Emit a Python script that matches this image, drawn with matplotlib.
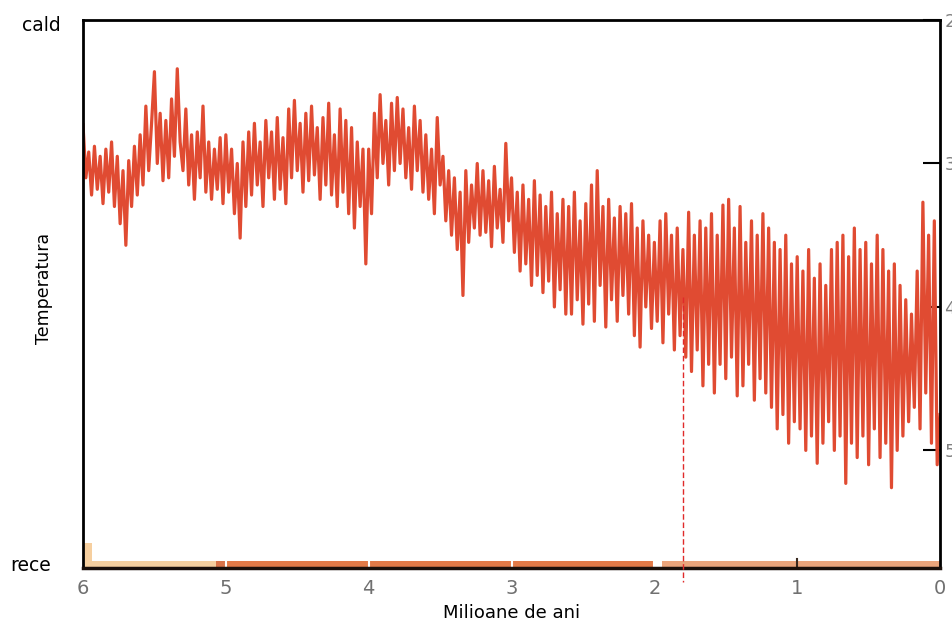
import numpy as np
import matplotlib.pyplot as plt

# delta-18O proxy (per mil), read every 0.02 Myr from 6.00 down to 0.00
d18o = [
    2.73, 3.10, 2.92, 3.22, 2.88, 3.18, 2.95, 3.28, 2.90, 3.20,
    2.85, 3.30, 2.95, 3.42, 3.05, 3.57, 2.98, 3.30, 2.88, 3.22,
    2.80, 3.15, 2.60, 3.05, 2.72, 2.36, 3.00, 2.65, 3.12, 2.70,
    3.10, 2.55, 2.95, 2.34, 2.85, 3.05, 2.62, 3.15, 2.80, 3.25,
    2.78, 3.10, 2.60, 3.20, 2.85, 3.25, 2.90, 3.18, 2.82, 3.28,
    2.80, 3.20, 2.90, 3.35, 3.00, 3.52, 2.85, 3.30, 2.78, 3.22,
    2.72, 3.15, 2.85, 3.30, 2.70, 3.10, 2.78, 3.25, 2.68, 3.18,
    2.82, 3.28, 2.62, 3.10, 2.56, 3.05, 2.72, 3.20, 2.65, 3.12,
    2.60, 3.08, 2.75, 3.25, 2.68, 3.15, 2.58, 3.22, 2.80, 3.30,
    2.62, 3.20, 2.70, 3.35, 2.75, 3.45, 2.85, 3.30, 2.90, 3.70,
    2.90, 3.35, 2.65, 3.10, 2.52, 3.00, 2.70, 3.15, 2.58, 3.05,
    2.54, 3.00, 2.62, 3.10, 2.75, 3.18, 2.60, 3.05, 2.70, 3.20,
    2.80, 3.25, 2.90, 3.35, 2.68, 3.15, 2.95, 3.40, 3.05, 3.50,
    3.10, 3.60, 3.20, 3.92, 3.05, 3.55, 3.15, 3.45, 3.00, 3.50,
    3.05, 3.48, 3.12, 3.58, 3.02, 3.45, 3.18, 3.55, 2.86, 3.40,
    3.10, 3.62, 3.20, 3.75, 3.15, 3.70, 3.25, 3.85, 3.12, 3.78,
    3.22, 3.90, 3.30, 3.82, 3.20, 4.00, 3.35, 3.88, 3.25, 4.05,
    3.30, 4.05, 3.20, 3.95, 3.40, 4.12, 3.28, 3.98, 3.15, 4.10,
    3.05, 3.85, 3.30, 4.14, 3.25, 3.95, 3.38, 4.10, 3.30, 3.92,
    3.35, 4.05, 3.28, 4.20, 3.45, 4.28, 3.40, 4.00, 3.50, 4.15,
    3.55, 4.10, 3.40, 4.25, 3.35, 4.05, 3.50, 4.30, 3.45, 4.20,
    3.60, 4.35, 3.34, 4.45, 3.50, 4.30, 3.40, 4.55, 3.45, 4.40,
    3.35, 4.60, 3.50, 4.40, 3.29, 4.50, 3.25, 4.35, 3.45, 4.62,
    3.30, 4.55, 3.55, 4.40, 3.40, 4.65, 3.50, 4.50, 3.35, 4.60,
    3.45, 4.70, 3.55, 4.85, 3.60, 4.75, 3.50, 4.95, 3.70, 4.80,
    3.65, 4.85, 3.75, 5.00, 3.60, 4.90, 3.80, 5.09, 3.70, 4.95,
    3.85, 4.80, 3.60, 5.00, 3.55, 4.90, 3.50, 5.23, 3.65, 4.95,
    3.45, 5.05, 3.60, 4.90, 3.55, 5.10, 3.70, 4.85, 3.50, 5.05,
    3.60, 4.95, 3.75, 5.26, 3.70, 5.00, 3.85, 4.90, 3.95, 4.80,
    4.05, 4.70, 3.75, 4.85, 3.27, 4.60, 3.50, 4.95, 3.40, 5.10,
    4.75,
]
ages = np.linspace(6.0, 0.0, len(d18o))

# coloured strip along the bottom: (start, end, colour)
strip_start = [6.0, 5.07, 5.0, 1.95]
strip_end = [5.07, 5.0, 2.0, 0.0]
strip_colors = ['#f6cf9f', '#d9744a', '#e27a48', '#eba57c']

xticks = [6, 5, 4, 3, 2, 1, 0]
yticks = [2, 3, 4, 5]
marker_age = 1.8

fig = plt.figure(figsize=(9.53, 6.22), dpi=100)
ax = fig.add_axes([0.0871, 0.0868, 0.8993, 0.881])

ax.plot(ages, d18o, color='#e04b32', lw=2.3)
ax.set_xlim(6.0, 0.0)
ax.set_ylim(5.82, 2.0)

# bottom strip
for s, e, c in zip(strip_start, strip_end, strip_colors):
    ax.axvspan(e, s, ymin=0, ymax=0.012, color=c, lw=0)
ax.axvspan(5.94, 6.0, ymin=0, ymax=0.046, color=strip_colors[0], lw=0)
for t in [5, 4, 3, 2]:
    ax.axvline(t, ymin=0, ymax=0.013, color='white', lw=1.5)
ax.axvline(1, ymin=0, ymax=0.016, color='#3a2a20', lw=1.5)

# dashed marker
ax.plot([marker_age, marker_age], [3.93, 5.92], color='#e02a2a', lw=1,
        ls=(0, (4, 2)), clip_on=False, zorder=5)

for side in ['left', 'right', 'top']:
    ax.spines[side].set_linewidth(2)
ax.spines['bottom'].set_linewidth(2.5)
ax.spines['bottom'].set_color('#1a0f0a')

ax.set_xticks(xticks)
ax.set_xticklabels([str(t) for t in xticks], color='#707070', fontsize=14,
                   family=['Liberation Sans Narrow', 'DejaVu Sans'])
ax.tick_params(axis='x', length=0, pad=8)

ax.yaxis.tick_right()
ax.set_yticks(yticks)
ax.set_yticklabels([str(t) for t in yticks], color='#808080', fontsize=13)
ax.tick_params(axis='y', direction='in', length=12, width=1.5, pad=3)

ax.set_xlabel('Milioane de ani', fontsize=13, labelpad=4)
ax.text(-0.045, 0.51, 'Temperatura', rotation=90, transform=ax.transAxes,
        ha='center', va='center', fontsize=12.5)
ax.text(-0.048, 0.99, 'cald', transform=ax.transAxes, ha='center',
        va='center', fontsize=13.5)
ax.text(-0.061, 0.005, 'rece', transform=ax.transAxes, ha='center',
        va='center', fontsize=13.5)

fig.savefig('out.png', dpi=100)
